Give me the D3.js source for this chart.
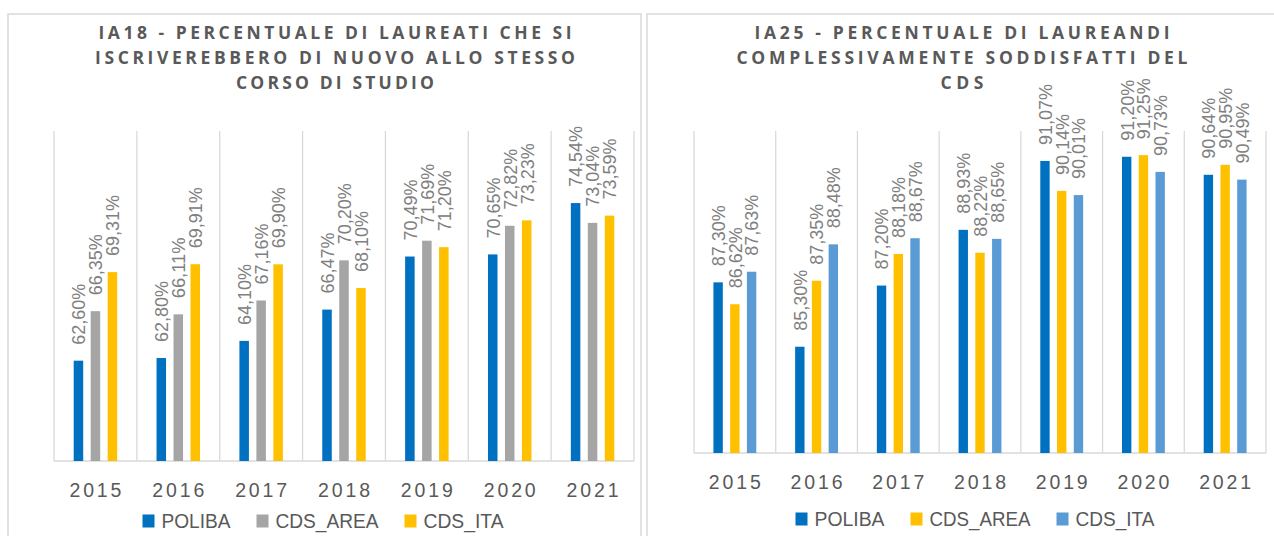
<!DOCTYPE html>
<html><head><meta charset="utf-8">
<script src="https://cdn.jsdelivr.net/npm/d3@7"></script>
<style>
html,body{margin:0;padding:0;background:#fff;}
svg{display:block;}
</style></head>
<body>
<svg id="chart" width="1274" height="536"></svg>
<script>
const years = ["2015","2016","2017","2018","2019","2020","2021"];
const seriesNamesA = ["POLIBA","CDS_AREA","CDS_ITA"];
const seriesNamesB = ["POLIBA","CDS_AREA","CDS_ITA"];
const ia18Poliba = [62.60, 62.80, 64.10, 66.47, 70.49, 70.65, 74.54];
const ia18Area   = [66.35, 66.11, 67.16, 70.20, 71.69, 72.82, 73.04];
const ia18Ita    = [69.31, 69.91, 69.90, 68.10, 71.20, 73.23, 73.59];
const ia25Poliba = [87.30, 85.30, 87.20, 88.93, 91.07, 91.20, 90.64];
const ia25Area   = [86.62, 87.35, 88.18, 88.22, 90.14, 91.25, 90.95];
const ia25Ita    = [87.63, 88.48, 88.67, 88.65, 90.01, 90.73, 90.49];
const titleA = ["IA18 - PERCENTUALE DI LAUREATI CHE SI","ISCRIVEREBBERO DI NUOVO ALLO STESSO","CORSO DI STUDIO"];
const titleB = ["IA25 - PERCENTUALE DI LAUREANDI","COMPLESSIVAMENTE SODDISFATTI DEL","CDS"];

const svg = d3.select("#chart");
const fmt = v => v.toFixed(2).replace(".", ",") + "%";

function panel(cfg){
  const g = svg.append("g");
  g.append("rect").attr("x",cfg.bx).attr("y",14).attr("width",cfg.bw).attr("height",600)
    .attr("fill","#fff").attr("stroke","#d9d9d9").attr("stroke-width",1.5);
  cfg.title.forEach((t,i)=>{
    g.append("text").attr("x",cfg.tx).attr("y",33+i*25).attr("dy","0.36em")
      .attr("text-anchor","middle").attr("font-family","'Open Sans', sans-serif")
      .attr("font-weight","bold").attr("font-size",17.5).attr("fill","#595959")
      .attr("textLength",cfg.tw[i]).attr("lengthAdjust","spacing").text(t);
  });
  const x = d3.scaleBand().domain(years).range(cfg.xr).padding(0);
  const inner = d3.scaleBand().domain(cfg.names).range([0,x.bandwidth()]).paddingInner(0.44).paddingOuter(1.16);
  const y = d3.scaleLinear().domain(cfg.dom).range([cfg.base, 131]);
  const bounds = years.map(d=>x(d)).concat([cfg.xr[1]]);
  g.selectAll("line.grid").data(bounds).join("line").attr("class","grid")
    .attr("x1",d=>d).attr("x2",d=>d).attr("y1",131).attr("y2",cfg.base)
    .attr("stroke","#d9d9d9").attr("stroke-width",1.3);
  g.append("line").attr("x1",cfg.xr[0]).attr("x2",cfg.xr[1]).attr("y1",cfg.base).attr("y2",cfg.base)
    .attr("stroke","#d9d9d9").attr("stroke-width",1.5);
  cfg.series.forEach((vals,si)=>{
    const name = cfg.names[si];
    g.selectAll(null).data(vals).join("rect")
      .attr("x",(d,i)=>x(years[i])+inner(name))
      .attr("y",d=>y(d)).attr("width",inner.bandwidth())
      .attr("height",d=>cfg.base-y(d)).attr("fill",cfg.colors[si]);
  });
  cfg.series.forEach((vals,si)=>{
    const name = cfg.names[si];
    g.selectAll(null).data(vals).join("text")
      .attr("transform",(d,i)=>{
        const cx = x(years[i])+inner(name)+inner.bandwidth()/2;
        return `translate(${cx},${y(d)-16}) rotate(-90)`;
      })
      .attr("dy","0.36em")
      .attr("font-family","'Liberation Sans', Arial, sans-serif").attr("font-size",19)
      .attr("textLength",61).attr("lengthAdjust","spacingAndGlyphs")
      .attr("fill","#808080").text(d=>fmt(d));
  });
  years.forEach(yr=>{
    g.append("text").attr("x",x(yr)+x.bandwidth()/2).attr("y",cfg.catY).attr("dy","0.36em")
      .attr("text-anchor","middle").attr("font-family","'Liberation Sans', Arial, sans-serif")
      .attr("font-size",19.5).attr("fill","#595959")
      .attr("textLength",52).attr("lengthAdjust","spacing").text(yr);
  });
  const lg = g.append("g");
  let cur = 0;
  cfg.names.forEach((n,i)=>{
    const it = lg.append("g").attr("transform",`translate(${cur},0)`);
    it.append("rect").attr("x",0).attr("y",-6.5).attr("width",12).attr("height",13).attr("fill",cfg.colors[i]);
    it.append("text").attr("x",19).attr("y",0).attr("dy","0.36em")
      .attr("font-family","'Liberation Sans', Arial, sans-serif").attr("font-size",20).attr("fill","#595959")
      .attr("textLength",cfg.legW[i]).attr("lengthAdjust","spacingAndGlyphs").text(n);
    cur += 19 + cfg.legW[i] + 26;
  });
  const total = cur - 26;
  lg.attr("transform",`translate(${cfg.lx - total/2},${cfg.legY})`);
}

panel({bx:8, bw:633, tx:335, tw:[473,480,198], title:titleA, xr:[54,634], dom:[55,80], base:461,
  names:seriesNamesA, series:[ia18Poliba, ia18Area, ia18Ita], colors:["#0070C0","#A5A5A5","#FFC000"],
  catY:490, legY:521, lx:323, legW:[69,103,80]});
panel({bx:647, bw:660, tx:962, tw:[415,451,43], title:titleB, xr:[694,1266], dom:[82,92], base:453,
  names:seriesNamesB, series:[ia25Poliba, ia25Area, ia25Ita], colors:["#0070C0","#FFC000","#5B9BD5"],
  catY:482, legY:519, lx:975, legW:[70,101,79]});
</script>
</body></html>
